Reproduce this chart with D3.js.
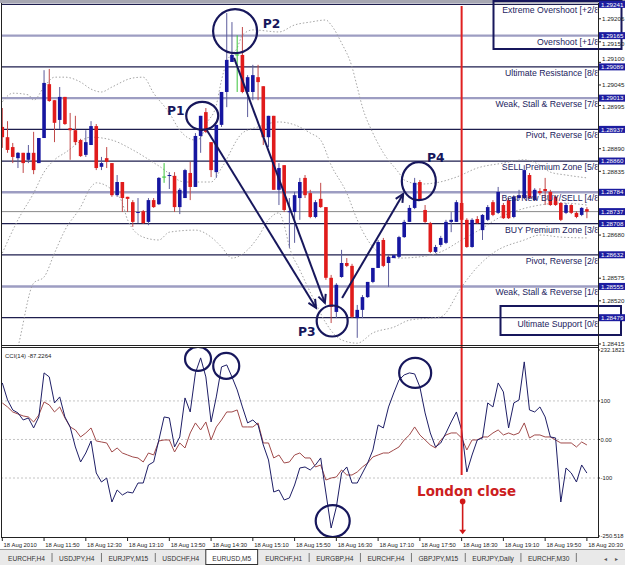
<!DOCTYPE html>
<html><head><meta charset="utf-8">
<script src="https://cdn.jsdelivr.net/npm/d3@7"></script>
<style>body{margin:0;background:#fff}svg{display:block}</style>
</head><body><svg id="c" width="625" height="565"></svg>
<script>
// ---------------- DATA ----------------
const open=[1.28943,1.28918,1.28894,1.28867,1.28880,1.28863,1.28880,1.28855,1.28916,1.29047,1.29008,1.28960,1.29016,1.28940,1.28935,1.28911,1.28875,1.28899,1.28945,1.28846,1.28867,1.28855,1.28777,1.28809,1.28773,1.28760,1.28734,1.28738,1.28712,1.28765,1.28755,1.28821,1.28824,1.28824,1.28748,1.28770,1.28831,1.28797,1.28921,1.28979,1.28906,1.28833,1.28948,1.29028,1.29101,1.29118,1.29118,1.29028,1.29028,1.29064,1.29042,1.28918,1.28970,1.28790,1.28850,1.28736,1.28736,1.28770,1.28819,1.28782,1.28724,1.28768,1.28748,1.28576,1.28493,1.28578,1.28612,1.28605,1.28478,1.28498,1.28529,1.28566,1.28600,1.28668,1.28612,1.28624,1.28627,1.28675,1.28712,1.28746,1.28809,1.28741,1.28709,1.28639,1.28656,1.28661,1.28712,1.28712,1.28758,1.28717,1.28651,1.28719,1.28692,1.28717,1.28760,1.28734,1.28753,1.28765,1.28724,1.28770,1.28770,1.28826,1.28765,1.28787,1.28792,1.28785,1.28773,1.28758,1.28734,1.28753,1.28734,1.28729,1.28743];
const high=[1.28989,1.28957,1.28904,1.28882,1.28880,1.28899,1.28931,1.28916,1.29081,1.29084,1.29008,1.29040,1.29016,1.28977,1.28970,1.28914,1.28935,1.28957,1.28950,1.28870,1.28894,1.28855,1.28826,1.28809,1.28773,1.28765,1.28770,1.28741,1.28770,1.28770,1.28821,1.28855,1.28833,1.28833,1.28794,1.28841,1.28858,1.28928,1.28970,1.28989,1.28906,1.28948,1.29028,1.29220,1.29198,1.29166,1.29186,1.29069,1.29094,1.29094,1.29042,1.28970,1.28970,1.28855,1.28850,1.28770,1.28785,1.28819,1.28826,1.28790,1.28765,1.28807,1.28748,1.28583,1.28563,1.28644,1.28624,1.28610,1.28510,1.28534,1.28566,1.28600,1.28668,1.28673,1.28631,1.28634,1.28678,1.28717,1.28753,1.28819,1.28814,1.28753,1.28712,1.28656,1.28678,1.28717,1.28736,1.28765,1.28765,1.28721,1.28721,1.28726,1.28731,1.28753,1.28765,1.28797,1.28758,1.28770,1.28777,1.28790,1.28850,1.28831,1.28794,1.28794,1.28819,1.28790,1.28777,1.28760,1.28758,1.28755,1.28738,1.28748,1.28748];
const low=[1.28892,1.28880,1.28855,1.28843,1.28831,1.28855,1.28828,1.28855,1.28916,1.29004,1.28906,1.28938,1.28948,1.28863,1.28899,1.28870,1.28870,1.28899,1.28838,1.28838,1.28843,1.28773,1.28773,1.28736,1.28736,1.28700,1.28709,1.28707,1.28704,1.28746,1.28753,1.28807,1.28792,1.28736,1.28731,1.28770,1.28765,1.28797,1.28880,1.28928,1.28821,1.28819,1.28943,1.28991,1.29101,1.29028,1.29025,1.28967,1.29008,1.29008,1.28899,1.28894,1.28790,1.28753,1.28736,1.28649,1.28661,1.28717,1.28770,1.28721,1.28721,1.28746,1.28571,1.28466,1.28478,1.28576,1.28602,1.28478,1.28430,1.28478,1.28527,1.28563,1.28600,1.28602,1.28554,1.28624,1.28624,1.28673,1.28712,1.28743,1.28763,1.28709,1.28636,1.28636,1.28651,1.28658,1.28687,1.28712,1.28714,1.28649,1.28649,1.28707,1.28668,1.28714,1.28726,1.28731,1.28719,1.28719,1.28721,1.28765,1.28768,1.28768,1.28763,1.28777,1.28753,1.28751,1.28751,1.28714,1.28731,1.28731,1.28721,1.28726,1.28721];
const close=[1.28918,1.28887,1.28870,1.28880,1.28855,1.28880,1.28838,1.28916,1.29050,1.29006,1.28953,1.29016,1.28950,1.28935,1.28906,1.28872,1.28906,1.28945,1.28843,1.28855,1.28858,1.28777,1.28809,1.28770,1.28768,1.28712,1.28736,1.28709,1.28765,1.28748,1.28819,1.28821,1.28826,1.28748,1.28790,1.28838,1.28797,1.28921,1.28970,1.28931,1.28838,1.28948,1.29028,1.29106,1.29118,1.29118,1.29028,1.29064,1.29069,1.29052,1.28918,1.28970,1.28790,1.28843,1.28741,1.28738,1.28777,1.28809,1.28777,1.28724,1.28760,1.28748,1.28576,1.28505,1.28559,1.28612,1.28605,1.28481,1.28498,1.28529,1.28566,1.28600,1.28663,1.28605,1.28627,1.28631,1.28675,1.28712,1.28746,1.28807,1.28765,1.28712,1.28639,1.28651,1.28673,1.28712,1.28717,1.28760,1.28717,1.28651,1.28717,1.28709,1.28729,1.28748,1.28729,1.28785,1.28721,1.28721,1.28773,1.28777,1.28838,1.28770,1.28790,1.28782,1.28787,1.28753,1.28753,1.28717,1.28753,1.28734,1.28724,1.28746,1.28737];

// Bollinger bands (bar index, price)
const bbUpper=[[0,1.29004],[2,1.29025],[5,1.29021],[6,1.29008],[8,1.29040],[10,1.29064],[12,1.29064],[15,1.29052],[17,1.29035],[19,1.29028],[21,1.29040],[25,1.29062],[27,1.29064],[29,1.29025],[32,1.28977],[34,1.28935],[37,1.28911],[38,1.28916],[39,1.28948],[41,1.28996],[42,1.29057],[43,1.29101],[45,1.29135],[46,1.29166],[48,1.29179],[53,1.29174],[56,1.29191],[59,1.29198],[62,1.29203],[63,1.29191],[65,1.29147],[67,1.29089],[68,1.29040],[69,1.28991],[71,1.28928],[73,1.28880],[76,1.28831],[77,1.28814],[80,1.28804],[83,1.28807],[87,1.28821],[91,1.28843],[96,1.28855],[100,1.28863],[103,1.28850],[105,1.28833],[108,1.28826],[112,1.28819]];
const bbMiddle=[[0,1.28636],[3,1.28717],[6,1.28782],[8,1.28833],[10,1.28863],[12,1.28880],[17,1.28918],[21,1.28911],[25,1.28887],[30,1.28848],[35,1.28809],[40,1.28809],[42,1.28843],[46,1.28928],[49,1.28943],[53,1.28955],[56,1.28948],[59,1.28928],[61,1.28911],[63,1.28850],[66,1.28782],[68,1.28717],[70,1.28668],[73,1.28631],[76,1.28624],[80,1.28627],[84,1.28639],[88,1.28668],[92,1.28697],[95,1.28721],[99,1.28741],[103,1.28753],[107,1.28758],[112,1.28753]];
const bbLower=[[0,1.28279],[3,1.28408],[6,1.28563],[8,1.28578],[10,1.28636],[12,1.28692],[15,1.28748],[17,1.28797],[18,1.28807],[21,1.28790],[23,1.28758],[24,1.28717],[27,1.28675],[30,1.28668],[32,1.28687],[37,1.28692],[40,1.28675],[42,1.28651],[44,1.28624],[47,1.28644],[49,1.28675],[51,1.28717],[53,1.28734],[54,1.28704],[55,1.28651],[57,1.28595],[60,1.28515],[62,1.28466],[65,1.28425],[68,1.28417],[71,1.28442],[75,1.28456],[78,1.28473],[84,1.28481],[88,1.28554],[91,1.28602],[94,1.28636],[100,1.28668],[103,1.28680],[107,1.28675],[112,1.28673]];

// CCI(14) and its signal line, one value per bar
const cci=[146.7,102.6,76.6,68.8,50.6,55.8,29.9,58.4,172.7,162.3,94.8,110.4,58.4,32.5,-19.5,-58.4,-35.1,-3.9,-87.0,-110.4,-100.0,-162.3,-131.1,-144.1,-136.3,-138.9,-113.0,-113.0,-66.2,-58.4,-1.3,58.4,55.8,-19.5,6.5,107.8,71.4,172.7,211.7,162.3,45.4,110.4,188.3,193.5,162.3,128.6,84.4,42.9,50.6,37.7,-14.3,-53.2,-136.3,-131.1,-157.1,-151.9,-118.2,-74.0,-71.4,-79.2,-66.2,-48.0,-138.9,-229.8,-175.3,-87.0,-71.4,-113.0,-113.0,-87.0,-61.0,-27.3,37.7,29.9,84.4,120.8,154.5,167.5,172.7,170.1,136.3,68.8,16.9,-19.5,-9.1,16.9,45.4,71.4,24.7,-84.4,-40.3,-1.3,3.9,94.8,84.4,146.7,123.4,29.9,94.8,102.6,201.3,76.6,71.4,84.4,58.4,6.5,3.9,-162.3,-74.0,-87.0,-110.4,-66.2,-87.2264];
const cciSignal=[94.8,84.4,71.4,66.2,61.0,58.4,45.4,63.6,97.4,89.6,71.4,84.4,55.8,32.5,24.7,6.5,16.9,29.9,-3.9,-6.5,-9.1,-32.5,-22.1,-35.1,-40.3,-45.4,-48.0,-58.4,-35.1,-40.3,-3.9,-1.3,-1.3,-32.5,-9.1,-22.1,16.9,42.9,24.7,45.4,-1.3,32.5,50.6,71.4,71.4,76.6,32.5,32.5,32.5,42.9,-9.1,-9.1,-48.0,-40.3,-61.0,-58.4,-40.3,-35.1,-48.0,-48.0,-71.4,-66.2,-105.2,-100.0,-97.4,-79.2,-92.2,-92.2,-84.4,-71.4,-61.0,-45.4,-40.3,-35.1,-35.1,-27.3,-19.5,-1.3,11.7,32.5,11.7,-1.3,-14.3,-22.1,-1.3,11.7,16.9,16.9,3.9,-27.3,-1.3,-1.3,6.5,6.5,16.9,24.7,11.7,16.9,11.7,16.9,42.9,3.9,11.7,11.7,6.5,6.5,-1.3,-9.1,-9.1,-9.1,-19.5,-6.5,-14.3];
const cciName="CCI(14) -87.2264";
const cciTicks=[232.1821,100,0,-100,-250.518];
const cciTickLabels=["232.1821","100","0.00","-100","-250.518"];
const cciLevels=[100,0,-100];

// Murrey math levels
const mmLevels=[1.29241,1.29165,1.29089,1.29013,1.28937,1.28860,1.28784,1.28708,1.28632,1.28555,1.28479];
const mmNames=["Extreme Overshoot [+2/8]","Overshoot [+1/8]","Ultimate Resistance [8/8]","Weak, Stall & Reverse [7/8]","Pivot, Reverse [6/8]","SELL Premium Zone [5/8]","Best New BUY/SELL [4/8]","BUY Premium Zone [3/8]","Pivot, Reverse [2/8]","Weak, Stall & Reverse [1/8]","Ultimate Support [0/8]"];
const bid=1.28737;
const priceTicks=[1.28415,1.28520,1.28575,1.28680,1.28835,1.28890,1.28995,1.29045,1.29100,1.29150,1.29206];

const timeLabels=["18 Aug 2010","18 Aug 11:50","18 Aug 12:30","18 Aug 13:10","18 Aug 13:50","18 Aug 14:30","18 Aug 15:10","18 Aug 15:50","18 Aug 16:30","18 Aug 17:10","18 Aug 17:50","18 Aug 18:30","18 Aug 19:10","18 Aug 19:50","18 Aug 20:30"];
const tabs=["EURCHF,H4","USDJPY,H4","EURJPY,M15","USDCHF,H4","EURUSD,M5","EURCHF,H1","EURGBP,H4","EURCHF,H4","GBPJPY,M15","EURJPY,Daily","EURCHF,M30"];
const activeTab="EURUSD,M5";

// annotations (bar index, price / cci value)
const pointLabels=["P1","P2","P3","P4"];
const pointCircles=[[38.3,1.28970],[44.6,1.29176],[63.2,1.28471],[79.8,1.28811]];
const pointTextPos=[[31.55,1.28972],[49.9,1.29184],[56.65,1.28434],[81.36,1.28858]];
const arrows=[[[39.2,1.28935],[60.1,1.28503]],[[44.4,1.29111],[61.8,1.28515]],[[65.1,1.28527],[76.8,1.28780]]];
const cciCircles=[[37.5,209.1],[42.9,190.9],[79.1,172.7],[63.3,-211.7]];
const londonBar=88;
const londonText="London close";

// ---------------- DRAW ----------------
const N=close.length, AX=598;
const svg=d3.select('#c');
const x=d3.scaleLinear().domain([0,112]).range([2.3,586.9]);
const y=d3.scaleLinear().domain([1.28415,1.29241]).range([344,4.4]);
const yc=d3.scaleLinear().domain([-250.518,232.1821]).range([536,350]);
const navy="#17175c", red="#e01b1b", blue="#1616a0";
const fa='Liberation Sans, Arial, sans-serif';
const defs=svg.append('defs');
defs.append('clipPath').attr('id','cm').append('rect').attr('x',1).attr('y',3).attr('width',AX-1).attr('height',342);
defs.append('clipPath').attr('id','cc').append('rect').attr('x',1).attr('y',348).attr('width',AX-1).attr('height',189);
defs.append('clipPath').attr('id','ct').append('rect').attr('x',1).attr('y',3).attr('width',AX-1.5).attr('height',342);

svg.append('rect').attr('x',0).attr('y',0).attr('width',625).attr('height',3).attr('fill','#a7a7b2');

const gm=svg.append('g').attr('clip-path','url(#cm)');
// murrey lines
const lightIdx=[1,3,6,9];
gm.selectAll('line.mm').data(mmLevels).join('line').attr('class','mm')
 .attr('x1',1).attr('x2',AX).attr('y1',d=>y(d)).attr('y2',d=>y(d))
 .attr('stroke',(d,i)=>lightIdx.includes(i)?'#9d9dc2':'#1e1e4e')
 .attr('stroke-width',(d,i)=>lightIdx.includes(i)?2.4:1.2);
// bid line
gm.append('line').attr('x1',1).attr('x2',AX).attr('y1',y(bid)).attr('y2',y(bid)).attr('stroke','#8a8a8a').attr('stroke-width',1);
// labels
svg.append('g').attr('clip-path','url(#ct)').selectAll('text').data(mmNames).join('text')
 .attr('x',601.5).attr('y',(d,i)=>y(mmLevels[i])+9).attr('text-anchor','end')
 .attr('font-family',fa).attr('font-size',8.7).attr('fill','#23235e').text(d=>d);
// bands
const bandLine=d3.line().x(d=>x(d[0])).y(d=>y(d[1])).curve(d3.curveMonotoneX);
[bbUpper,bbMiddle,bbLower].forEach(b=>{
  gm.append('path').attr('d',bandLine(b)).attr('fill','none').attr('stroke','#9a9a9a').attr('stroke-width',0.9).attr('stroke-dasharray','1.5,2');
});
// candles
const bw=3.6;
const cg=gm.append('g');
d3.range(N).forEach(i=>{
  const o=open[i],c=close[i];
  const col=c>o?blue:(c<o?red:'#3bc43b');
  const wcol=c>o?'#5c5c9c':(c<o?'#c04848':'#3bc43b');
  const cx=x(i);
  cg.append('line').attr('x1',cx).attr('x2',cx).attr('y1',y(high[i])).attr('y2',y(low[i])).attr('stroke',wcol).attr('stroke-width',1);
  if(c===o){
    cg.append('line').attr('x1',cx-2).attr('x2',cx+2).attr('y1',y(o)).attr('y2',y(o)).attr('stroke',col).attr('stroke-width',1);
  } else {
    const t=y(Math.max(o,c)), b=y(Math.min(o,c));
    cg.append('rect').attr('x',cx-bw/2).attr('y',t).attr('width',bw).attr('height',Math.max(1,b-t)).attr('fill',col);
  }
});
// circles & arrows & labels
gm.selectAll('ellipse.p').data(pointCircles).join('ellipse').attr('class','p')
 .attr('cx',d=>x(d[0])).attr('cy',d=>y(d[1]))
 .attr('rx',(d,i)=>[16,22,15.5,17][i]).attr('ry',(d,i)=>[14,22,15.5,19][i])
 .attr('fill','none').attr('stroke',navy).attr('stroke-width',2.2);
arrows.forEach(a=>{
  const x1=x(a[0][0]),y1=y(a[0][1]),x2=x(a[1][0]),y2=y(a[1][1]);
  gm.append('line').attr('x1',x1).attr('y1',y1).attr('x2',x2).attr('y2',y2).attr('stroke',navy).attr('stroke-width',2);
  const ang=Math.atan2(y2-y1,x2-x1), L=9, s=0.45;
  const p=[[x2-L*Math.cos(ang-s),y2-L*Math.sin(ang-s)],[x2,y2],[x2-L*Math.cos(ang+s),y2-L*Math.sin(ang+s)]];
  gm.append('path').attr('d',d3.line()(p)).attr('fill','none').attr('stroke',navy).attr('stroke-width',2);
});
svg.selectAll('text.pl').data(pointLabels).join('text').attr('class','pl')
 .attr('x',(d,i)=>x(pointTextPos[i][0])).attr('y',(d,i)=>y(pointTextPos[i][1]))
 .attr('font-family','DejaVu Sans, Verdana, sans-serif').attr('font-weight','bold').attr('font-size',12.3)
 .attr('fill',navy).text(d=>d);

// ---- CCI panel
const gc=svg.append('g').attr('clip-path','url(#cc)');
gc.selectAll('line.lv').data(cciLevels).join('line').attr('x1',1).attr('x2',AX)
 .attr('y1',d=>yc(d)).attr('y2',d=>yc(d)).attr('stroke','#c4c4c4').attr('stroke-width',1).attr('stroke-dasharray','2,2');
const cl=d3.line().x((d,i)=>x(i)).y(d=>yc(d));
gc.append('path').attr('d',cl(cciSignal)).attr('fill','none').attr('stroke','#a04a4a').attr('stroke-width',1);
gc.append('path').attr('d',cl(cci)).attr('fill','none').attr('stroke','#1e1e66').attr('stroke-width',1);
gc.selectAll('ellipse').data(cciCircles).join('ellipse')
 .attr('cx',d=>x(d[0])).attr('cy',d=>yc(d[1]))
 .attr('rx',(d,i)=>[13,13,16,17][i]).attr('ry',(d,i)=>[12,13,15,16][i])
 .attr('fill','none').attr('stroke',navy).attr('stroke-width',2.2);
svg.append('text').attr('x',5).attr('y',357.5).attr('font-family',fa).attr('font-size',6).attr('fill','#222').text(cciName);

// London close
const lx=x(londonBar);
svg.append('line').attr('x1',lx).attr('x2',lx).attr('y1',6).attr('y2',yc(-92)).attr('stroke','#e02020').attr('stroke-width',2);
svg.append('text').attr('x',lx+5).attr('y',yc(-146.7)).attr('text-anchor','middle')
 .attr('font-family','DejaVu Sans, Verdana, sans-serif').attr('font-weight','bold').attr('font-size',13.4).attr('fill','#cc2020').text(londonText);
svg.append('circle').attr('cx',lx+1).attr('cy',yc(-160.7)).attr('r',2.8).attr('fill','#d01818');
svg.append('line').attr('x1',lx+1).attr('x2',lx+1).attr('y1',yc(-160.7)).attr('y2',yc(-236)).attr('stroke','#d01818').attr('stroke-width',1.6);
svg.append('path').attr('d',d3.line()([[lx-2.5,yc(-234)],[lx+4.5,yc(-234)],[lx+1,yc(-246)]])+'Z').attr('fill','#d01818');

// boxes
svg.append('rect').attr('x',493.5).attr('y',1).attr('width',128).attr('height',48).attr('fill','none').attr('stroke',navy).attr('stroke-width',2);
svg.append('rect').attr('x',500.5).attr('y',306).attr('width',120.5).attr('height',29).attr('fill','none').attr('stroke',navy).attr('stroke-width',2);

// frames
svg.append('line').attr('x1',1.5).attr('x2',1.5).attr('y1',3).attr('y2',538).attr('stroke','#222').attr('stroke-width',1);
svg.append('line').attr('x1',AX+0.5).attr('x2',AX+0.5).attr('y1',3).attr('y2',538).attr('stroke','#222').attr('stroke-width',1);
svg.append('line').attr('x1',1).attr('x2',AX).attr('y1',345.5).attr('y2',345.5).attr('stroke','#222');
svg.append('line').attr('x1',1).attr('x2',AX).attr('y1',347.5).attr('y2',347.5).attr('stroke','#222');
svg.append('line').attr('x1',1).attr('x2',AX).attr('y1',537.5).attr('y2',537.5).attr('stroke','#222');

// right price axis
const pt=svg.append('g');
const boxLv=mmLevels.concat([bid]);
priceTicks.forEach(v=>{
  let ty=y(v);
  boxLv.forEach(b=>{ const d=ty-y(b); if(Math.abs(d)<8.2){ ty=y(b)+(d<0?-8.2:8.2); } });
  pt.append('line').attr('x1',AX).attr('x2',AX+3).attr('y1',y(v)).attr('y2',y(v)).attr('stroke','#222');
  pt.append('text').attr('x',AX+4).attr('y',ty+2.2).attr('font-family',fa).attr('font-size',6.2).attr('fill','#222').text(v.toFixed(5));
});
boxLv.forEach(v=>{
  pt.append('rect').attr('x',AX+1).attr('y',y(v)-3.5).attr('width',26).attr('height',7).attr('fill','#1c1ca0');
  pt.append('text').attr('x',AX+3).attr('y',y(v)+2.2).attr('font-family',fa).attr('font-size',6.2).attr('fill','#fff').text(v.toFixed(5));
});
// cci axis
cciTicks.forEach((v,i)=>{
  svg.append('line').attr('x1',AX).attr('x2',AX+2).attr('y1',yc(v)).attr('y2',yc(v)).attr('stroke','#222');
  svg.append('text').attr('x',AX+2.5).attr('y',yc(v)+2.2).attr('font-family',fa).attr('font-size',5.8).attr('fill','#222').text(cciTickLabels[i]);
});
// time axis
timeLabels.forEach((t,k)=>{
  const tx=x(k*8);
  svg.append('line').attr('x1',tx).attr('x2',tx).attr('y1',538).attr('y2',541).attr('stroke','#222');
  svg.append('text').attr('x',tx+1.3).attr('y',546.5).attr('font-family',fa).attr('font-size',5.9).attr('fill','#222').text(t);
});

// tabs
svg.append('rect').attr('x',0).attr('y',549).attr('width',625).attr('height',16).attr('fill','#e9e9e9');
svg.append('line').attr('x1',0).attr('x2',625).attr('y1',549.5).attr('y2',549.5).attr('stroke','#9a9a9a');
const gTabBg=svg.append('g'), gTabTx=svg.append('g');
let tx=8;
tabs.forEach((t,i)=>{
  const isA=t===activeTab;
  if(isA){ tx+=6; }
  const te=gTabTx.append('text').attr('x',tx).attr('y',560.5).attr('font-family',fa).attr('font-size',6.6).attr('fill','#333').text(t);
  const w=te.node().getComputedTextLength();
  if(isA){
    gTabBg.append('rect').attr('x',tx-6.5).attr('y',549.5).attr('width',w+13).attr('height',15).attr('fill','#fff').attr('stroke','#333').attr('stroke-width',1);
    tx+=w+14;
  } else {
    const nextActive=tabs[i+1]===activeTab;
    if(!nextActive){
      gTabBg.append('line').attr('x1',tx+w+7).attr('x2',tx+w+7).attr('y1',553).attr('y2',562).attr('stroke','#777');
    }
    tx+=w+(nextActive?7:14);
  }
});
svg.append('text').attr('x',604).attr('y',560.5).attr('font-family','DejaVu Sans, sans-serif').attr('font-size',6).attr('fill','#555').text('◂');
svg.append('text').attr('x',615).attr('y',560.5).attr('font-family','DejaVu Sans, sans-serif').attr('font-size',6).attr('fill','#555').text('▸');
</script>
</body></html>
